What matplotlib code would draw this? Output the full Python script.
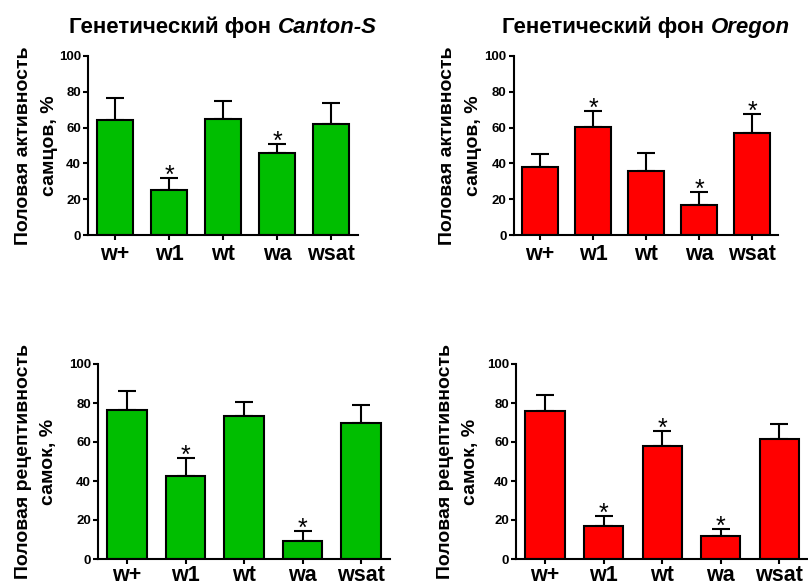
import numpy as np
import matplotlib
matplotlib.use("Agg")
import matplotlib.pyplot as plt

plt.rcParams["font.family"] = ["Liberation Sans", "DejaVu Sans"]
plt.rcParams["font.weight"] = "bold"

genotypes = ["w+", "w1", "wt", "wa", "wsat"]

# male activity, Canton-S / Oregon background
male_cs = [64, 25, 65, 46, 62]
male_cs_sem = [12.5, 7, 10, 5, 12]
male_cs_sig = [False, True, False, True, False]

male_or = [38, 60.5, 35.5, 17, 57]
male_or_sem = [7, 8.5, 10.5, 7, 10.5]
male_or_sig = [False, True, False, True, True]

# female receptivity
female_cs = [76.5, 42.5, 73.5, 9, 70]
female_cs_sem = [9.5, 9.5, 7, 5.5, 9]
female_cs_sig = [False, True, False, True, False]

female_or = [76, 17, 58, 12, 61.5]
female_or_sem = [8, 5, 7.5, 3.5, 7.5]
female_or_sig = [False, True, True, True, False]

green = "#00BE00"
red = "#FF0000"

W, H = 808, 587
fig = plt.figure(figsize=(W / 100, H / 100), dpi=100)


def px_axes(left, right, top, bottom):
    return fig.add_axes([left / W, 1 - bottom / H, (right - left) / W, (bottom - top) / H])


def bar_panel(ax, means, sem, sig, color, ylabel, label_offset, xpad=3):
    x = np.arange(len(genotypes))
    ax.bar(x, means, width=0.67, color=color, edgecolor="black", linewidth=1.5, zorder=2)
    ax.errorbar(x, means, yerr=[np.zeros(len(sem)), sem], fmt="none", ecolor="black",
                elinewidth=1.5, capsize=6.5, capthick=1.5, zorder=1)
    for xi, m, s, flag in zip(x, means, sem, sig):
        if flag:
            ax.annotate("*", xy=(xi, m + s), xytext=(0, -3.5), textcoords="offset points",
                        ha="center", va="baseline", fontsize=18, fontweight="normal")
    ax.set_xlim(-0.5, 4.5)
    ax.set_ylim(0, 100)
    ax.set_yticks([0, 20, 40, 60, 80, 100])
    ax.set_xticks(x)
    ax.set_xticklabels(genotypes, fontsize=15.5, fontweight="bold")
    for lab in ax.get_yticklabels():
        lab.set_fontsize(9.5)
        lab.set_fontweight("bold")
    ax.spines["top"].set_visible(False)
    ax.spines["right"].set_visible(False)
    ax.spines["left"].set_linewidth(1.5)
    ax.spines["bottom"].set_linewidth(1.5)
    ax.tick_params(axis="both", width=1.5, length=3.5, color="black")
    ax.tick_params(axis="y", pad=1.5)
    ax.tick_params(axis="x", pad=xpad)
    pos = ax.get_position()
    fig.text(pos.x0 - label_offset / W, pos.y0 + pos.height / 2, ylabel, rotation=90,
             ha="center", va="center", multialignment="center", fontsize=14,
             fontweight="bold", linespacing=1.62)


def panel_title(ax, plain, italic):
    r = fig.canvas.get_renderer()
    pos = ax.get_position()
    cx = pos.x0 + pos.width / 2
    y = 1 - 33 / H
    t1 = fig.text(0, y, plain, fontsize=16, fontweight="bold", va="baseline")
    t2 = fig.text(0, y, italic, fontsize=16, fontweight="bold", style="italic", va="baseline")
    w1 = t1.get_window_extent(r).width / W
    w2 = t2.get_window_extent(r).width / W
    start = cx - (w1 + w2) / 2
    t1.set_x(start)
    t2.set_x(start + w1)


ax1 = px_axes(88, 358, 56, 235)
bar_panel(ax1, male_cs, male_cs_sem, male_cs_sig, green, "Половая активность\nсамцов, %", 51.5)
panel_title(ax1, "Генетический фон ", "Canton-S")

ax2 = px_axes(513.5, 778.5, 56, 235)
bar_panel(ax2, male_or, male_or_sem, male_or_sig, red, "Половая активность\nсамцов, %", 53)
panel_title(ax2, "Генетический фон ", "Oregon")

ax3 = px_axes(97.75, 390.25, 364, 559)
bar_panel(ax3, female_cs, female_cs_sem, female_cs_sig, green,
          "Половая рецептивность\nсамок, %", 62, xpad=0.8)

ax4 = px_axes(515.8, 808.6, 364, 559)
bar_panel(ax4, female_or, female_or_sem, female_or_sig, red,
          "Половая рецептивность\nсамок, %", 58, xpad=0.8)

fig.savefig("out.png", dpi=100)
